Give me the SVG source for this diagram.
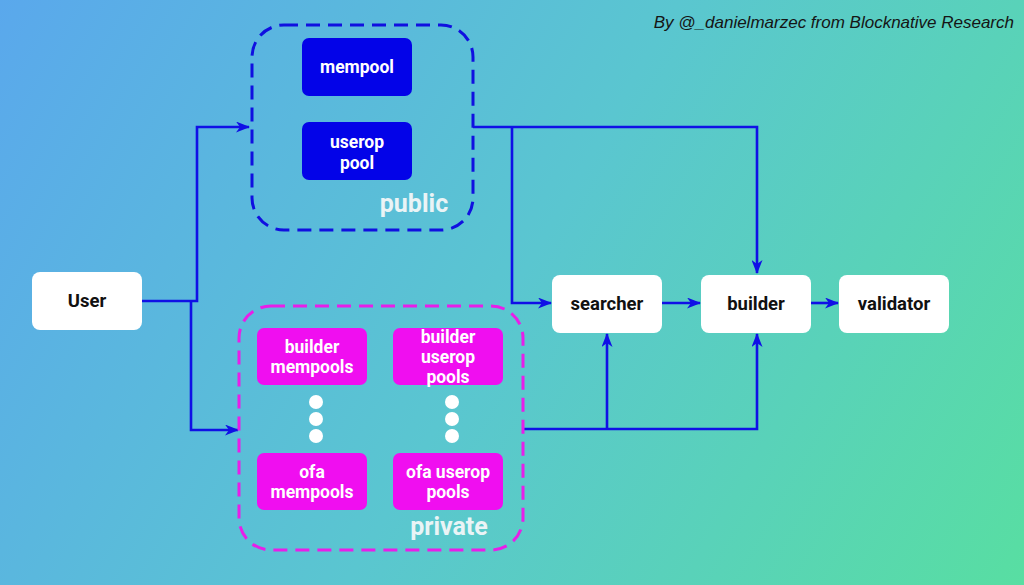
<svg xmlns="http://www.w3.org/2000/svg" width="1024" height="585" viewBox="0 0 1024 585">
<defs>
<linearGradient id="bg" x1="0" y1="0" x2="1024" y2="585" gradientUnits="userSpaceOnUse">
<stop offset="0" stop-color="#5aa8ec"/>
<stop offset="0.5" stop-color="#5ac6d0"/>
<stop offset="1" stop-color="#58dea2"/>
</linearGradient>
<marker id="arr" viewBox="0 0 14 11" refX="13" refY="5.5" markerWidth="14" markerHeight="11" markerUnits="userSpaceOnUse" orient="auto">
<path d="M0,0 L14,5.5 L0,11 L4,5.5 z" fill="#1010e6"/>
</marker>
<style>
.wbox{fill:#ffffff}
.wt{font-family:Roboto,"Liberation Sans",sans-serif;font-weight:bold;font-size:18.5px;fill:#111;text-anchor:middle}
.bbox{fill:#0303e8}
.mbox{fill:#f00ef0}
.it{font-family:Roboto,"Liberation Sans",sans-serif;font-weight:bold;font-size:17.5px;fill:#ffffff;text-anchor:middle}
.grp{fill:none;stroke-width:3;stroke-dasharray:14 8}
.gl{font-family:Roboto,"Liberation Sans",sans-serif;font-weight:bold;font-size:25px;fill:#eaf4f6;text-anchor:middle}
.c{fill:none;stroke:#1010e6;stroke-width:2.6}
.dot{fill:#ffffff}
</style>
</defs>
<rect x="0" y="0" width="1024" height="585" fill="url(#bg)"/>
<text x="1014" y="28" font-family="'Liberation Sans',Arial,sans-serif" font-style="italic" font-size="17" fill="#151515" text-anchor="end">By @_danielmarzec from Blocknative Research</text>

<g id="connectors">
<path class="c" d="M142,301 H197 V127 H249" marker-end="url(#arr)"/>
<path class="c" d="M191,301 V430 H238" marker-end="url(#arr)"/>
<path class="c" d="M473,127 H757 V273" marker-end="url(#arr)"/>
<path class="c" d="M512,127 V303 H551" marker-end="url(#arr)"/>
<path class="c" d="M523,429 H757 V334" marker-end="url(#arr)"/>
<path class="c" d="M607,429 V334" marker-end="url(#arr)"/>
<path class="c" d="M662,303 H700" marker-end="url(#arr)"/>
<path class="c" d="M811,303 H838" marker-end="url(#arr)"/>
</g>

<g id="public">
<rect class="grp" x="252" y="25" width="221" height="205" rx="32" stroke="#1010e0"/>
<text class="gl" x="414" y="212">public</text>
</g>
<g id="mempool">
<rect class="bbox" x="302" y="38" width="110" height="58" rx="7"/>
<text class="it" x="357" y="73">mempool</text>
</g>
<g id="userop-pool">
<rect class="bbox" x="302" y="122" width="110" height="58" rx="7"/>
<text class="it" x="357" y="148">userop</text>
<text class="it" x="357" y="169">pool</text>
</g>

<g id="private">
<rect class="grp" x="239" y="306" width="284" height="244" rx="32" stroke="#e81ee8"/>
<text class="gl" x="449" y="535">private</text>
</g>
<g id="builder-mempools">
<rect class="mbox" x="257" y="328" width="110" height="57" rx="7"/>
<text class="it" x="312" y="353">builder</text>
<text class="it" x="312" y="373">mempools</text>
</g>
<g id="builder-userop-pools">
<rect class="mbox" x="393" y="328" width="110" height="57" rx="7"/>
<text class="it" x="448" y="343">builder</text>
<text class="it" x="448" y="363">userop</text>
<text class="it" x="448" y="383">pools</text>
</g>
<g id="dots-left">
<circle class="dot" cx="316" cy="402" r="7"/>
<circle class="dot" cx="316" cy="419" r="7"/>
<circle class="dot" cx="316" cy="436" r="7"/>
</g>
<g id="dots-right">
<circle class="dot" cx="452" cy="402" r="7"/>
<circle class="dot" cx="452" cy="419" r="7"/>
<circle class="dot" cx="452" cy="436" r="7"/>
</g>
<g id="ofa-mempools">
<rect class="mbox" x="257" y="453" width="110" height="57" rx="7"/>
<text class="it" x="312" y="478">ofa</text>
<text class="it" x="312" y="498">mempools</text>
</g>
<g id="ofa-userop-pools">
<rect class="mbox" x="393" y="453" width="110" height="57" rx="7"/>
<text class="it" x="448" y="478">ofa userop</text>
<text class="it" x="448" y="498">pools</text>
</g>

<g id="user">
<rect class="wbox" x="32" y="272" width="110" height="58" rx="8"/>
<text class="wt" x="87" y="307">User</text>
</g>
<g id="searcher">
<rect class="wbox" x="552" y="275" width="110" height="58" rx="8"/>
<text class="wt" x="607" y="310">searcher</text>
</g>
<g id="builder">
<rect class="wbox" x="701" y="275" width="110" height="58" rx="8"/>
<text class="wt" x="756" y="310">builder</text>
</g>
<g id="validator">
<rect class="wbox" x="839" y="275" width="110" height="58" rx="8"/>
<text class="wt" x="894" y="310">validator</text>
</g>
</svg>
